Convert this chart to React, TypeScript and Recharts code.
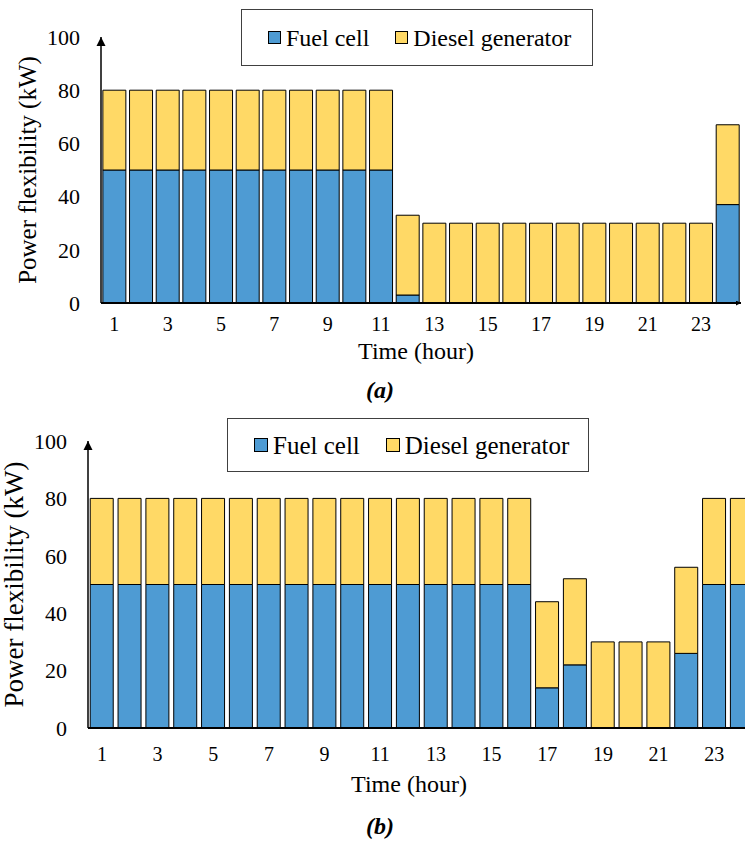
import { BarChart, Bar, XAxis, YAxis, Legend, Label } from 'recharts';

// hour of the day, 1..24
const HOURS = [1, 2, 3, 4, 5, 6, 7, 8, 9, 10, 11, 12, 13, 14, 15, 16, 17, 18, 19, 20, 21, 22, 23, 24];

// (a)
const FUEL_A = [50, 50, 50, 50, 50, 50, 50, 50, 50, 50, 50, 3, 0, 0, 0, 0, 0, 0, 0, 0, 0, 0, 0, 37];
const DIESEL_A = [30, 30, 30, 30, 30, 30, 30, 30, 30, 30, 30, 30, 30, 30, 30, 30, 30, 30, 30, 30, 30, 30, 30, 30];

// (b)
const FUEL_B = [50, 50, 50, 50, 50, 50, 50, 50, 50, 50, 50, 50, 50, 50, 50, 50, 14, 22, 0, 0, 0, 26, 50, 50];
const DIESEL_B = [30, 30, 30, 30, 30, 30, 30, 30, 30, 30, 30, 30, 30, 30, 30, 30, 30, 30, 30, 30, 30, 30, 30, 30];

const Y_TICKS = [0, 20, 40, 60, 80, 100];

const SERIES = ['Fuel cell', 'Diesel generator'];

const BLUE = '#4E9BD3';
const YELLOW = '#FFD966';

const toRows = (fuel: number[], diesel: number[]) =>
  HOURS.map((hour, i) => ({ hour, fuel: fuel[i], diesel: diesel[i] }));

interface LegendBoxProps {
  payload?: { value: string; color: string }[];
  fontSize: number;
  square: number;
}

function LegendBox({ payload, fontSize, square }: LegendBoxProps) {
  const items = [...(payload || [])].sort((a, b) => SERIES.indexOf(a.value) - SERIES.indexOf(b.value));
  return (
    <div
      style={{
        boxSizing: 'border-box',
        width: '100%',
        height: '100%',
        border: '1.5px solid #404040',
        background: '#fff',
        display: 'flex',
        alignItems: 'center',
        paddingLeft: 26,
        gap: 26,
        fontSize,
        lineHeight: 1,
        color: '#000',
      }}
    >
      {items.map((p) => (
        <div key={p.value} style={{ display: 'flex', alignItems: 'center', gap: 5 }}>
          <span
            style={{
              display: 'inline-block',
              boxSizing: 'border-box',
              width: square,
              height: square,
              background: p.color,
              border: '1px solid #000',
            }}
          />
          <span>{p.value}</span>
        </div>
      ))}
    </div>
  );
}

interface PanelProps {
  top: number;
  width: number;
  height: number;
  data: { hour: number; fuel: number; diesel: number }[];
  marginTop: number;
  yWidth: number;
  xHeight: number;
  xTickMargin: number;
  yLabelSize: number;
  yLabelDx: number;
  xLabelOffset: number;
  xLabelDx: number;
  captionOffset: number;
  captionDx: number;
  caption: string;
  gap: string;
  legend: { left: number; top: number; width: number; height: number; fontSize: number; square: number };
}

function Panel(p: PanelProps) {
  return (
    <div style={{ position: 'absolute', left: 0, top: p.top }}>
      <BarChart
        width={p.width}
        height={p.height}
        data={p.data}
        margin={{ top: p.marginTop, right: 4, bottom: 0, left: 0 }}
        barCategoryGap={p.gap}
      >
        <XAxis
          dataKey="hour"
          interval={1}
          height={p.xHeight}
          tickLine={false}
          tickSize={0}
          tickMargin={p.xTickMargin}
          tick={{ fill: '#000', fontSize: 20 }}
          axisLine={{ stroke: '#000', strokeWidth: 2, markerEnd: 'url(#arrowSmall)' }}
        >
          <Label value="Time (hour)" position="insideTop" offset={p.xLabelOffset} dx={p.xLabelDx} fill="#000" fontSize={24} />
          <Label
            value={p.caption}
            position="insideTop"
            offset={p.captionOffset}
            dx={p.captionDx}
            fill="#000"
            fontSize={24}
            fontWeight="bold"
            fontStyle="italic"
          />
        </XAxis>
        <YAxis
          domain={[0, 100]}
          ticks={Y_TICKS}
          width={p.yWidth}
          tickLine={false}
          tickSize={0}
          tickMargin={21}
          tick={{ fill: '#000', fontSize: 22 }}
          axisLine={{ stroke: '#000', strokeWidth: 1.5, markerStart: 'url(#arrowUp)' }}
        >
          <Label
            value="Power flexibility (kW)"
            angle={-90}
            position="center"
            dx={p.yLabelDx}
            fill="#000"
            fontSize={p.yLabelSize}
          />
        </YAxis>
        <Legend
          layout="horizontal"
          verticalAlign="middle"
          align="center"
          wrapperStyle={{
            left: p.legend.left,
            top: p.legend.top,
            width: p.legend.width,
            height: p.legend.height,
          }}
          content={(props: any) => (
            <LegendBox payload={props.payload} fontSize={p.legend.fontSize} square={p.legend.square} />
          )}
        />
        <Bar dataKey="fuel" name={SERIES[0]} stackId="s" fill={BLUE} stroke="#000" strokeWidth={1} isAnimationActive={false} />
        <Bar dataKey="diesel" name={SERIES[1]} stackId="s" fill={YELLOW} stroke="#000" strokeWidth={1} isAnimationActive={false} />
      </BarChart>
    </div>
  );
}

export default function App() {
  return (
    <div
      style={{
        position: 'relative',
        width: 745,
        height: 843,
        overflow: 'hidden',
        background: '#fff',
        fontFamily: '"Liberation Serif", "Times New Roman", serif',
      }}
    >
      <style>{'body{margin:0}'}</style>
      <svg width={0} height={0} style={{ position: 'absolute' }}>
        <defs>
          <marker
            id="arrowUp"
            viewBox="0 0 10 10"
            refX="10"
            refY="5"
            markerWidth="9"
            markerHeight="10"
            markerUnits="userSpaceOnUse"
            orient="auto-start-reverse"
          >
            <path d="M0,0 L10,5 L0,10 z" fill="#000" />
          </marker>
          <marker
            id="arrowSmall"
            viewBox="0 0 10 10"
            refX="10"
            refY="5"
            markerWidth="5"
            markerHeight="5"
            markerUnits="userSpaceOnUse"
            orient="auto-start-reverse"
          >
            <path d="M0,0 L10,5 L0,10 z" fill="#000" />
          </marker>
        </defs>
      </svg>
      <Panel
        top={0}
        width={745}
        height={405}
        data={toRows(FUEL_A, DIESEL_A)}
        marginTop={37}
        yWidth={101}
        xHeight={102}
        xTickMargin={14}
        yLabelSize={25}
        yLabelDx={-23}
        xLabelOffset={39}
        xLabelDx={-5}
        captionOffset={78}
        captionDx={-41}
        caption="(a)"
        gap="7%"
        legend={{ left: 241, top: 9, width: 352, height: 57, fontSize: 24, square: 13 }}
      />
      <Panel
        top={400}
        width={760}
        height={443}
        data={toRows(FUEL_B, DIESEL_B)}
        marginTop={41}
        yWidth={88}
        xHeight={115}
        xTickMargin={19}
        yLabelSize={27}
        yLabelDx={-31}
        xLabelOffset={47}
        xLabelDx={-13}
        captionOffset={89}
        captionDx={-42}
        caption="(b)"
        gap="8%"
        legend={{ left: 227, top: 18, width: 362, height: 54, fontSize: 25, square: 14 }}
      />
    </div>
  );
}
